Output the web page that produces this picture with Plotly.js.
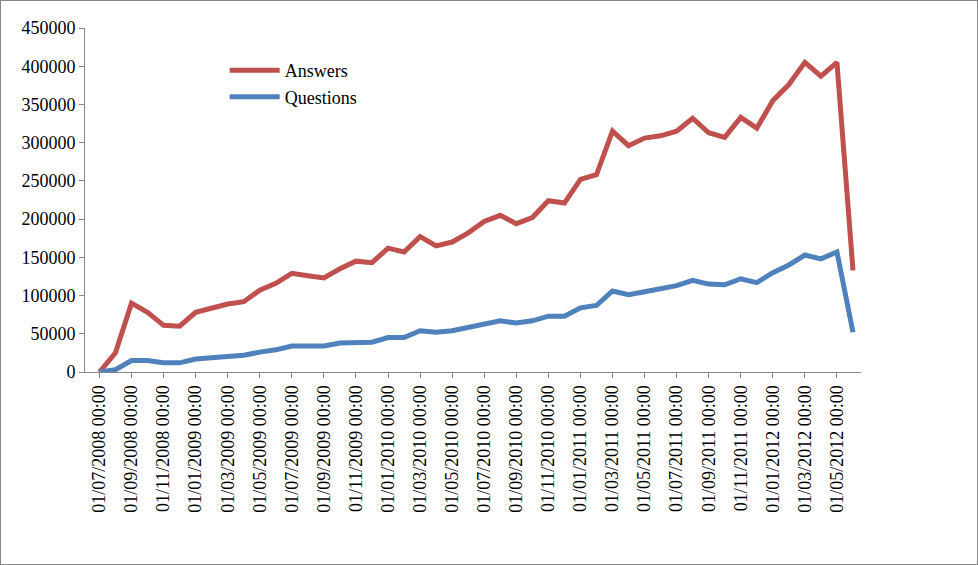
<!DOCTYPE html>
<html>
<head>
<script src="https://cdn.plot.ly/plotly-3.0.1.min.js"></script>
<style>body{margin:0}#c{width:978px;height:565px;box-sizing:border-box;border:1px solid #888}</style>
</head>
<body>
<div id="c"></div>
<script>
// monthly counts, 07/2008 .. 06/2012
const answers = [0, 25000, 90000, 78000, 61000, 60000, 78000, 83000, 89000, 92000, 107000, 116000,
  129000, 126000, 123000, 135000, 145000, 143000, 162000, 157000, 177000, 165000, 170000, 182000,
  197000, 205000, 194000, 202000, 224000, 221000, 252000, 258000, 315000, 296000, 306000, 309000,
  315000, 332000, 313000, 307000, 333000, 319000, 355000, 376000, 405000, 387000, 405000, 133000];
const questions = [0, 3000, 15000, 15000, 12000, 12000, 17000, 19000, 21000, 22000, 26000, 29000,
  34000, 34000, 34000, 38000, 39000, 39000, 45000, 45000, 54000, 52000, 54000, 58000,
  63000, 67000, 64000, 67000, 73000, 73000, 84000, 87000, 106000, 101000, 105000, 109000,
  113000, 120000, 115000, 114000, 122000, 117000, 130000, 140000, 153000, 148000, 157000, 52000];

const months = [];
for (let i = 0; i < answers.length; i++) {
  const m = (6 + i) % 12 + 1, y = 2008 + Math.floor((6 + i) / 12);
  months.push('01/' + String(m).padStart(2, '0') + '/' + y + ' 00:00');
}
const tickMonths = months.filter((_, i) => i % 2 === 0);

const font = {family: 'Liberation Serif, Times New Roman, serif', size: 18, color: '#000'};

Plotly.newPlot('c', [
  {x: months, y: answers, name: 'Answers', mode: 'lines', line: {color: '#c0504d', width: 5}},
  {x: months, y: questions, name: 'Questions', mode: 'lines', line: {color: '#4f81bd', width: 5}}
], {
  width: 976, height: 563,
  margin: {l: 84, r: 116, t: 27, b: 192},
  font: font,
  showlegend: true,
  legend: {x: 0.18, y: 0.93, bgcolor: 'rgba(0,0,0,0)', font: font, tracegroupgap: 24, itemwidth: 50},
  xaxis: {type: 'category', tickvals: tickMonths, ticktext: tickMonths, tickangle: -90,
    showgrid: false, showline: true, linecolor: '#888', ticks: 'outside', ticklen: 5, tickcolor: '#888',
    range: [-0.9, 47.5]},
  yaxis: {range: [0, 450000], dtick: 50000, showgrid: false, showline: true, linecolor: '#888',
    ticks: 'outside', ticklen: 5, tickcolor: '#888', tickformat: 'd', zeroline: false}
}, {displayModeBar: false});
</script>
</body>
</html>
